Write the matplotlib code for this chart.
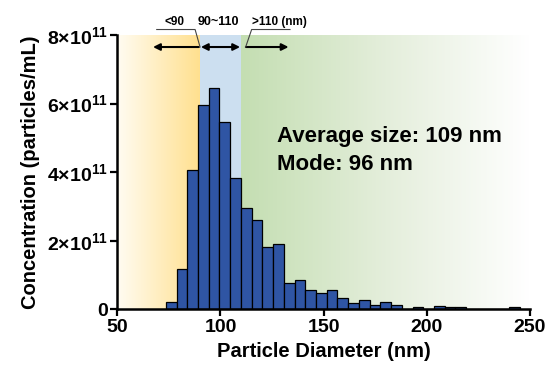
import numpy as np
import matplotlib
matplotlib.use("Agg")
import matplotlib.pyplot as plt
from matplotlib.colors import LinearSegmentedColormap

plt.rcParams['font.family'] = ['Liberation Sans', 'DejaVu Sans']
plt.rcParams['font.weight'] = 'bold'
plt.rcParams['mathtext.fontset'] = 'custom'
plt.rcParams['mathtext.rm'] = 'Liberation Sans:bold'
plt.rcParams['mathtext.bf'] = 'Liberation Sans:bold'

# histogram bins (nm) and concentration (x1e11 particles/mL)
bin_centers = [76.1, 81.3, 86.5, 91.7, 96.9, 102.1, 107.3, 112.5, 117.7, 122.9,
               128.1, 133.3, 138.5, 143.7, 148.9, 154.1, 159.3, 164.5, 169.7, 174.9,
               180.1, 185.3, 190.5, 195.7, 200.9, 206.1, 211.3, 216.5, 221.7, 226.9,
               232.1, 237.3, 242.5]
conc = [0.23, 1.17, 4.08, 5.97, 6.45, 5.47, 3.82, 2.96, 2.60, 1.81,
        1.91, 0.77, 0.86, 0.57, 0.47, 0.57, 0.33, 0.18, 0.28, 0.13,
        0.23, 0.13, 0.02, 0.07, 0.0, 0.09, 0.06, 0.06, 0.0, 0.0,
        0.0, 0.0, 0.06]
bin_width = 5.2

region_edges = [50, 90, 110, 250]
region_labels = ["<90", "90~110", ">110 (nm)"]
ytick_vals = [0, 2, 4, 6, 8]
xtick_vals = [50, 100, 150, 200, 250]

fig = plt.figure(figsize=(5.5, 3.76), dpi=100)
ax = fig.add_axes([0.2133, 0.1769, 0.7503, 0.7300])

ymax = 8e11
# shaded size regions
orange = LinearSegmentedColormap.from_list("o", ["#FFFCF2", "#FFE08F"])
green = LinearSegmentedColormap.from_list("g", ["#C4DEB2", "#E4EEDB", "#FFFFFF"])
grad = np.linspace(0, 1, 256).reshape(1, -1)
ax.imshow(grad, cmap=orange, extent=[region_edges[0], region_edges[1], 0, ymax],
          aspect='auto', zorder=0)
ax.axvspan(region_edges[1], region_edges[2], color="#CCDFF0", zorder=0, lw=0)
ax.imshow(grad, cmap=green, extent=[region_edges[2], region_edges[3], 0, ymax],
          aspect='auto', zorder=0)

ax.bar(bin_centers, np.array(conc) * 1e11, width=bin_width, color="#2F55A4",
       edgecolor="black", linewidth=0.9, zorder=2)

ax.set_xlim(50, 250)
ax.set_ylim(0, ymax)
ax.set_xticks(xtick_vals)
ax.set_yticks([v * 1e11 for v in ytick_vals])
ax.set_yticklabels(["0"] + [r"$\mathbf{%d×10^{11}}$" % v for v in ytick_vals[1:]])
ax.tick_params(labelsize=14, width=1.6, length=5, direction='out', pad=2)
for lbl in ax.get_xticklabels() + ax.get_yticklabels():
    lbl.set_fontweight('bold')
for s in ['top', 'right']:
    ax.spines[s].set_visible(False)
for s in ['left', 'bottom']:
    ax.spines[s].set_linewidth(1.8)
    ax.spines[s].set_zorder(5)

ax.set_xlabel("Particle Diameter (nm)", fontsize=14.5, fontweight='bold', labelpad=4)
ax.set_ylabel("Concentration (particles/mL)", fontsize=14.5, fontweight='bold', labelpad=5)

# arrows for size ranges
ya = 7.65e11
kw = dict(color='black', lw=1.5, mutation_scale=10, shrinkA=0, shrinkB=0)
ax.annotate("", xy=(67.3, ya), xytext=(89.5, ya), arrowprops=dict(arrowstyle='-|>', **kw))
ax.annotate("", xy=(90.5, ya), xytext=(109.5, ya), arrowprops=dict(arrowstyle='<|-|>', **kw))
ax.annotate("", xy=(133, ya), xytext=(112.3, ya), arrowprops=dict(arrowstyle='-|>', **kw))

# labels with leader lines
ax.plot([69.1, 87.7, 90.1], [8.16e11, 8.16e11, 7.65e11], color='#444444', lw=0.8, clip_on=False, zorder=3)
ax.plot([133.7, 115.1, 112.2], [8.16e11, 8.16e11, 7.65e11], color='#444444', lw=0.8, clip_on=False, zorder=3)
ax.text(77.5, 8.2e11, region_labels[0], fontsize=8.5, fontweight='bold', ha='center', va='bottom', clip_on=False)
ax.text(99.0, 8.2e11, region_labels[1], fontsize=9, fontweight='bold', ha='center', va='bottom', clip_on=False)
ax.text(115.5, 8.2e11, region_labels[2], fontsize=8.5, fontweight='bold', ha='left', va='bottom', clip_on=False)

ax.text(127.3, 4.89e11, "Average size: 109 nm", fontsize=16, fontweight='bold', va='baseline')
ax.text(127.3, 4.06e11, "Mode: 96 nm", fontsize=16, fontweight='bold', va='baseline')

fig.savefig("out.png", dpi=100)
